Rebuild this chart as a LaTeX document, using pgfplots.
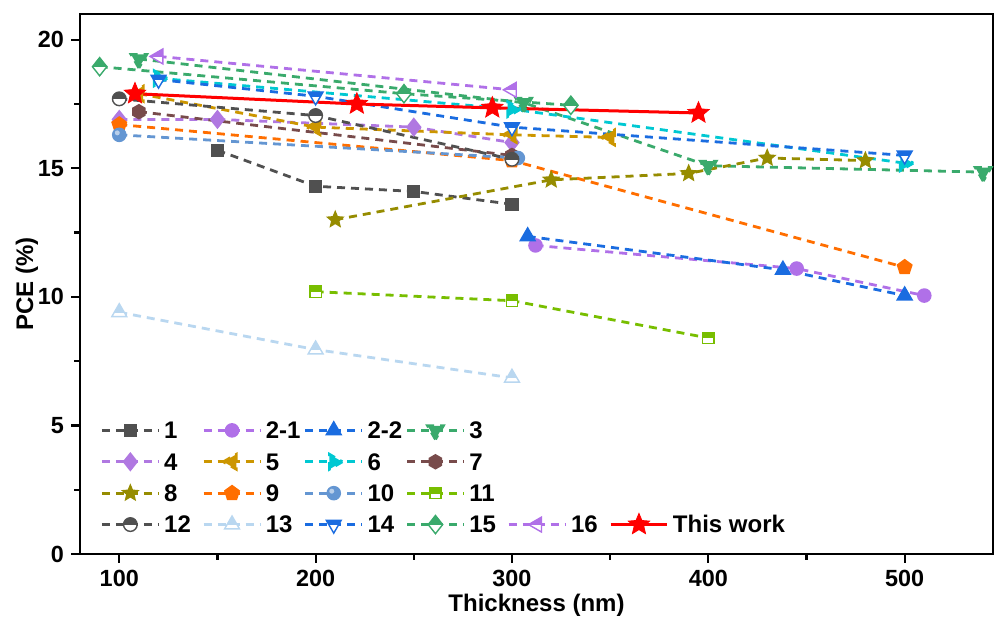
\documentclass[border=0pt]{standalone}
\usepackage{fontspec}
\setmainfont{Liberation Sans}
\usepackage{pgfplots}
\pgfplotsset{compat=1.18}

\definecolor{c1}{RGB}{80,80,80}
\definecolor{c21}{RGB}{176,112,232}
\definecolor{c22}{RGB}{26,108,224}
\definecolor{c3}{RGB}{58,170,108}
\definecolor{c4}{RGB}{176,120,225}
\definecolor{c5}{RGB}{204,150,0}
\definecolor{c6}{RGB}{0,200,210}
\definecolor{c7}{RGB}{120,75,75}
\definecolor{c8}{RGB}{150,140,0}
\definecolor{c9}{RGB}{255,110,0}
\definecolor{c10}{RGB}{100,150,210}
\definecolor{c11}{RGB}{120,190,0}
\definecolor{c13}{RGB}{185,215,240}

% marker outlines
\def\pathsq{\pgfpathrectangle{\pgfqpoint{-\pgfplotmarksize}{-\pgfplotmarksize}}{\pgfqpoint{2\pgfplotmarksize}{2\pgfplotmarksize}}}
\def\pathcirc{\pgfpathcircle{\pgfpointorigin}{\pgfplotmarksize}}
\def\pathtriu{\pgfpathmoveto{\pgfqpoint{0pt}{\pgfplotmarksize}}\pgfpathlineto{\pgfqpoint{-.866\pgfplotmarksize}{-.5\pgfplotmarksize}}\pgfpathlineto{\pgfqpoint{.866\pgfplotmarksize}{-.5\pgfplotmarksize}}\pgfpathclose}
\def\pathtrid{\pgfpathmoveto{\pgfqpoint{0pt}{-\pgfplotmarksize}}\pgfpathlineto{\pgfqpoint{-.866\pgfplotmarksize}{.5\pgfplotmarksize}}\pgfpathlineto{\pgfqpoint{.866\pgfplotmarksize}{.5\pgfplotmarksize}}\pgfpathclose}
\def\pathtril{\pgfpathmoveto{\pgfqpoint{-\pgfplotmarksize}{0pt}}\pgfpathlineto{\pgfqpoint{.5\pgfplotmarksize}{.866\pgfplotmarksize}}\pgfpathlineto{\pgfqpoint{.5\pgfplotmarksize}{-.866\pgfplotmarksize}}\pgfpathclose}
\def\pathdia{\pgfpathmoveto{\pgfqpoint{0pt}{1.2\pgfplotmarksize}}\pgfpathlineto{\pgfqpoint{-.95\pgfplotmarksize}{0pt}}\pgfpathlineto{\pgfqpoint{0pt}{-1.2\pgfplotmarksize}}\pgfpathlineto{\pgfqpoint{.95\pgfplotmarksize}{0pt}}\pgfpathclose}

% white marker, top part filled
\newcommand\halfmark[2]{%
  \begin{pgfscope}\pgfsetfillcolor{white}#1\pgfusepath{fill}\end{pgfscope}%
  \begin{pgfscope}\pgfpathrectangle{\pgfqpoint{-1.25\pgfplotmarksize}{#2}}{\pgfqpoint{2.5\pgfplotmarksize}{1.25\pgfplotmarksize}}\pgfusepath{clip}#1\pgfusepath{fill}\end{pgfscope}%
  #1\pgfusepath{stroke}}
\pgfdeclareplotmark{hsq}{\halfmark{\pathsq}{0pt}}
\pgfdeclareplotmark{hcirc}{\halfmark{\pathcirc}{0pt}}
\pgfdeclareplotmark{htriu}{\halfmark{\pathtriu}{0pt}}
\pgfdeclareplotmark{htrid}{\halfmark{\pathtrid}{0pt}}
\pgfdeclareplotmark{htril}{\halfmark{\pathtril}{0pt}}
\pgfdeclareplotmark{hdia}{\halfmark{\pathdia}{0pt}}
\pgfdeclareplotmark{dia*}{\pathdia\pgfusepath{fill,stroke}}
\pgfdeclareplotmark{hexagon*}{%
  \pgfpathmoveto{\pgfqpointpolar{90}{\pgfplotmarksize}}%
  \pgfpathlineto{\pgfqpointpolar{150}{\pgfplotmarksize}}%
  \pgfpathlineto{\pgfqpointpolar{210}{\pgfplotmarksize}}%
  \pgfpathlineto{\pgfqpointpolar{270}{\pgfplotmarksize}}%
  \pgfpathlineto{\pgfqpointpolar{330}{\pgfplotmarksize}}%
  \pgfpathlineto{\pgfqpointpolar{30}{\pgfplotmarksize}}%
  \pgfpathclose\pgfusepath{fill,stroke}}
\pgfdeclareplotmark{fstar}{%
  \pgfpathmoveto{\pgfqpointpolar{90}{\pgfplotmarksize}}%
  \pgfpathlineto{\pgfqpointpolar{126}{.45\pgfplotmarksize}}%
  \pgfpathlineto{\pgfqpointpolar{162}{\pgfplotmarksize}}%
  \pgfpathlineto{\pgfqpointpolar{198}{.45\pgfplotmarksize}}%
  \pgfpathlineto{\pgfqpointpolar{234}{\pgfplotmarksize}}%
  \pgfpathlineto{\pgfqpointpolar{270}{.45\pgfplotmarksize}}%
  \pgfpathlineto{\pgfqpointpolar{306}{\pgfplotmarksize}}%
  \pgfpathlineto{\pgfqpointpolar{342}{.45\pgfplotmarksize}}%
  \pgfpathlineto{\pgfqpointpolar{18}{\pgfplotmarksize}}%
  \pgfpathlineto{\pgfqpointpolar{54}{.45\pgfplotmarksize}}%
  \pgfpathclose\pgfusepath{fill,stroke}}
\pgfdeclareplotmark{sball}{%
  \pathcirc\pgfusepath{fill,stroke}%
  \begin{pgfscope}\pgfsetfillcolor{white}\pgfsetfillopacity{0.55}%
  \pgfpathcircle{\pgfqpoint{-.3\pgfplotmarksize}{.3\pgfplotmarksize}}{.38\pgfplotmarksize}\pgfusepath{fill}\end{pgfscope}}

\newcommand\lt[1]{\strut\makebox[17pt][l]{#1}}

\begin{document}
\begin{tikzpicture}
\pgfplotsset{
  ds/.style={color=#1, line width=1.4pt, dash pattern=on 4pt off 3pt,
    mark options={solid, fill=#1, draw=#1, line width=0.7pt}},
}
\begin{axis}[
  name=ax,
  scale only axis,
  width=456.5pt, height=270pt,
  xmin=80, xmax=545, ymin=0, ymax=21,
  clip=false,
  xtick={100,200,300,400,500},
  minor xtick={150,250,350,450},
  ytick={0,5,10,15,20},
  minor ytick={2.5,7.5,12.5,17.5},
  tick pos=left,
  tick align=outside,
  major tick length=4.5pt,
  minor tick length=3pt,
  every tick/.style={black, line width=1.1pt},
  axis line style={line width=1.3pt},
  /pgf/number format/assume math mode=true,
  tick label style={font=\bfseries\fontsize{11.7}{13}\selectfont},
  label style={font=\bfseries\fontsize{12}{14}\selectfont},
  xlabel={Thickness (nm)},
  ylabel={PCE (\%)},
  xlabel style={yshift=3pt},
  ylabel style={yshift=-7pt},
  legend columns=6,
  legend style={draw=none, fill=none, inner sep=0pt,
    at={(0.022,0.258)}, anchor=north west,
    font=\bfseries\fontsize{12}{14}\selectfont,
    row sep=0.4pt, column sep=0pt},
  legend cell align=left,
  legend image code/.code={\draw[mark repeat=2, mark phase=2]
    plot coordinates {(0cm,0cm) (0.5cm,0cm) (1cm,0cm)};},
]
\addplot[ds=c1, mark=square*, mark size=3pt] coordinates {
  (150,15.7) (200,14.3) (250,14.1) (300,13.6)};
\addlegendentry{\lt{1}}
\addplot[ds=c21, mark=*, mark size=3.3pt] coordinates {
  (312,12.0) (445,11.1) (510,10.05)};
\addlegendentry{\lt{2-1}}
\addplot[ds=c22, mark=triangle*, mark size=4.3pt] coordinates {
  (308,12.35) (438,11.05) (500,10.05)};
\addlegendentry{\lt{2-2}}
\addplot[ds=c3, mark=triangle*, mark size=4.5pt, mark options={rotate=180}] coordinates {
  (110,19.25) (306,17.55) (400,15.1) (540,14.85)};
\addlegendentry{\lt{3}}
\addlegendimage{empty legend}\addlegendentry{}
\addlegendimage{empty legend}\addlegendentry{}
\addplot[ds=c4, mark=dia*, mark size=3.6pt] coordinates {
  (100,16.9) (150,16.9) (250,16.6) (300,16.0)};
\addlegendentry{\lt{4}}
\addplot[ds=c5, mark=triangle*, mark size=4.3pt, mark options={rotate=90}] coordinates {
  (110,17.9) (200,16.6) (300,16.3) (350,16.2)};
\addlegendentry{\lt{5}}
\addplot[ds=c6, mark=triangle*, mark size=4.3pt, mark options={rotate=-90}] coordinates {
  (120,18.5) (300,17.3) (500,15.2)};
\addlegendentry{\lt{6}}
\addplot[ds=c7, mark=hexagon*, mark size=3.5pt] coordinates {
  (110,17.2) (300,15.5)};
\addlegendentry{\lt{7}}
\addlegendimage{empty legend}\addlegendentry{}
\addlegendimage{empty legend}\addlegendentry{}
\addplot[ds=c8, mark=fstar, mark size=4pt] coordinates {
  (210,13.0) (320,14.55) (390,14.8) (430,15.4) (480,15.3)};
\addlegendentry{\lt{8}}
\addplot[ds=c9, mark=pentagon*, mark size=3.8pt] coordinates {
  (100,16.7) (300,15.3) (500,11.15)};
\addlegendentry{\lt{9}}
\addplot[ds=c10, mark=sball, mark size=3.3pt] coordinates {
  (100,16.3) (303,15.4)};
\addlegendentry{\lt{10}}
\addplot[ds=c11, mark=hsq, mark size=2.8pt] coordinates {
  (200,10.2) (300,9.85) (400,8.4)};
\addlegendentry{\lt{11}}
\addlegendimage{empty legend}\addlegendentry{}
\addlegendimage{empty legend}\addlegendentry{}
\addplot[ds=c1, mark=hcirc, mark size=3.4pt] coordinates {
  (100,17.7) (200,17.05) (300,15.35)};
\addlegendentry{\lt{12}}
\addplot[ds=c13, mark=htriu, mark size=4.3pt] coordinates {
  (100,9.4) (200,7.95) (300,6.85)};
\addlegendentry{\lt{13}}
\addplot[ds=c22, mark=htrid, mark size=4.3pt] coordinates {
  (120,18.45) (200,17.8) (300,16.6) (500,15.5)};
\addlegendentry{\lt{14}}
\addplot[ds=c3, mark=hdia, mark size=3.8pt] coordinates {
  (90,18.95) (245,17.9) (330,17.45)};
\addlegendentry{\lt{15}}
\addplot[ds=c21, mark=htril, mark size=4.3pt] coordinates {
  (120,19.35) (300,18.05)};
\addlegendentry{\lt{16}}
\addplot[red, line width=1.5pt, mark=fstar, mark size=5.6pt,
  mark options={solid, fill=red, draw=red, line width=0.4pt}] coordinates {
  (108,17.9) (221,17.5) (290,17.35) (395,17.15)};
\addlegendentry{\strut This work}
\end{axis}
\pgfresetboundingbox
\path ([xshift=-40pt,yshift=-32.5pt]ax.south west) rectangle ([xshift=1pt,yshift=7pt]ax.north east);
\end{tikzpicture}
\end{document}
